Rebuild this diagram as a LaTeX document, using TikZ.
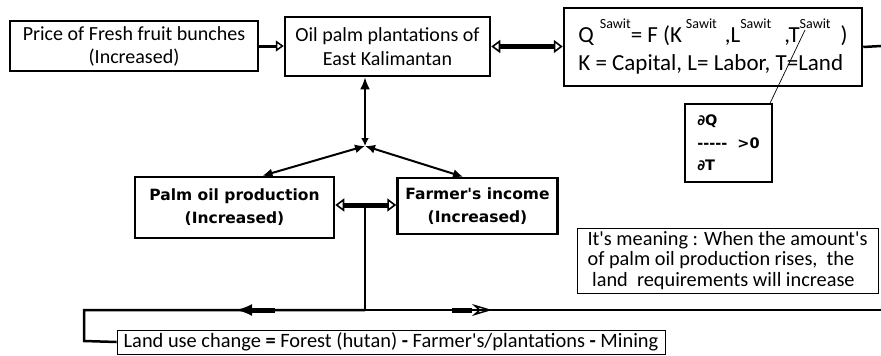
\documentclass[tikz,border=0pt]{standalone}
\usepackage{fontspec}
\setmainfont{Carlito}
\newfontfamily\boldface{DejaVu Sans}
\usetikzlibrary{arrows.meta,decorations.markings}

\newcommand{\sawit}{\raisebox{14pt}{\fontsize{14}{14}\selectfont Sawit}}

\tikzset{
	box/.style={rectangle, draw=black, line width=2.5pt, inner sep=0pt, align=center},
	notebox/.style={rectangle, draw=black, line width=0.8pt, inner sep=0pt},
	fatlink/.style={line width=5pt, {Triangle[open,length=9pt,width=13pt,line width=1.6pt]}-{Triangle[open,length=9pt,width=13pt,line width=1.6pt]}},
	thinlink/.style={line width=2pt, {Latex[length=10pt,width=9pt]}-{Latex[length=10pt,width=9pt]}},
}

\begin{document}
\begin{tikzpicture}[x=1pt,y=-1pt]
	\useasboundingbox (0,0) rectangle (881,356);
	\node[box, minimum width=248pt, minimum height=50pt, font=\fontsize{20}{23}\selectfont] (FFB) at (134,46) {Price of Fresh fruit bunches\\(Increased)};
	\node[box, minimum width=205pt, minimum height=59pt, font=\fontsize{20}{24}\selectfont] (OP) at (387.5,46.5) {Oil palm plantations of\\East Kalimantan};
	\node[box, minimum width=298pt, minimum height=78pt, align=left, font=\fontsize{23}{28}\selectfont] (QF) at (713,47) {Q\hspace{6pt}\sawit= F (K\,\sawit\hspace{8pt},L\sawit\hspace{13pt},T\sawit\hspace{10pt})\\K = Capital, L= Labor, T=Land};
	\node[box, minimum width=87pt, minimum height=78pt, align=left, font=\boldface\bfseries\fontsize{14.5}{22.5}\selectfont] (DQ) at (728.5,143) {∂Q\\-{}-{}-{}-{}-\ \ >0\\∂T};
	\node[box, minimum width=199pt, minimum height=61pt, font=\boldface\bfseries\fontsize{15.5}{23}\selectfont] (PO) at (234.5,207.5) {Palm oil production\\(Increased)};
	\node[box, minimum width=160pt, minimum height=56pt, font=\boldface\bfseries\fontsize{15.5}{23}\selectfont] (FI) at (477.5,206) {Farmer's income\\(Increased)};
	\node[notebox, minimum width=301pt, minimum height=65pt, align=left, font=\fontsize{20.3}{20.5}\selectfont] (NT) at (727.5,260.5) {It\textquotesingle s meaning : When the amount\textquotesingle s\\of palm oil production rises,\ \ the\\\ land\ \ requirements will increase};
	\node[notebox, minimum width=548pt, minimum height=24pt, font=\fontsize{20.4}{22}\selectfont] (LU) at (391,342) {Land use change \textbf{=} Forest (hutan) \textbf{-} Farmer\textquotesingle s/plantations \textbf{-} Mining};
	\node[shape=coordinate] (hub) at (365,146) {};
	\node[shape=coordinate] (split) at (365,205) {};
	\node[shape=coordinate] (base) at (365,310) {};
	\node[shape=coordinate] (LL) at (84,310) {};
	\node[shape=coordinate] (LD) at (84,341) {};
	\node[shape=coordinate] (RR) at (881,310) {};
	\node[shape=coordinate] (RT) at (881,46) {};
	\node[shape=coordinate] (Tmark) at (805,30) {};
	\draw[line width=3pt, -{Triangle[open,length=8pt,width=11pt,line width=1.5pt]}] (FFB.east) -- (OP.west |- FFB.east);
	\draw[fatlink] (OP.east) -- (QF.west |- OP.east);
	\draw[line width=2.5pt] (QF.east) -- (RT);
	\draw[line width=2.5pt, {Latex[length=12pt,width=10pt]}-{Latex[length=8pt,width=8pt]}] (OP.south -| hub) -- (hub);
	\draw[thinlink] (hub) -- ([xshift=28pt]PO.north);
	\draw[thinlink] (hub) -- ([xshift=-14.5pt]FI.north);
	\draw[fatlink] (PO.east |- split) -- (FI.west |- split);
	\draw[line width=2pt] (split) -- (base);
	\draw[line width=2.5pt, postaction=decorate, decoration={markings, mark=at position 129pt with {\draw[line width=5pt] (-39pt,0) -- (-14pt,0); \arrow{Latex[length=16pt,width=12pt]}}}] (base) -- (LL) -- (LD) -- (LU.west);
	\draw[line width=2.5pt, postaction=decorate, decoration={markings, mark=at position 127pt with {\draw[line width=5pt] (-40pt,0) -- (-20pt,0); \arrow{Stealth[open,length=20pt,width=12pt,line width=1.5pt]}}}] (base) -- (RR);
	\draw[line width=0.7pt] ([xshift=-3pt]DQ.north east) -- (Tmark);
\end{tikzpicture}
\end{document}
